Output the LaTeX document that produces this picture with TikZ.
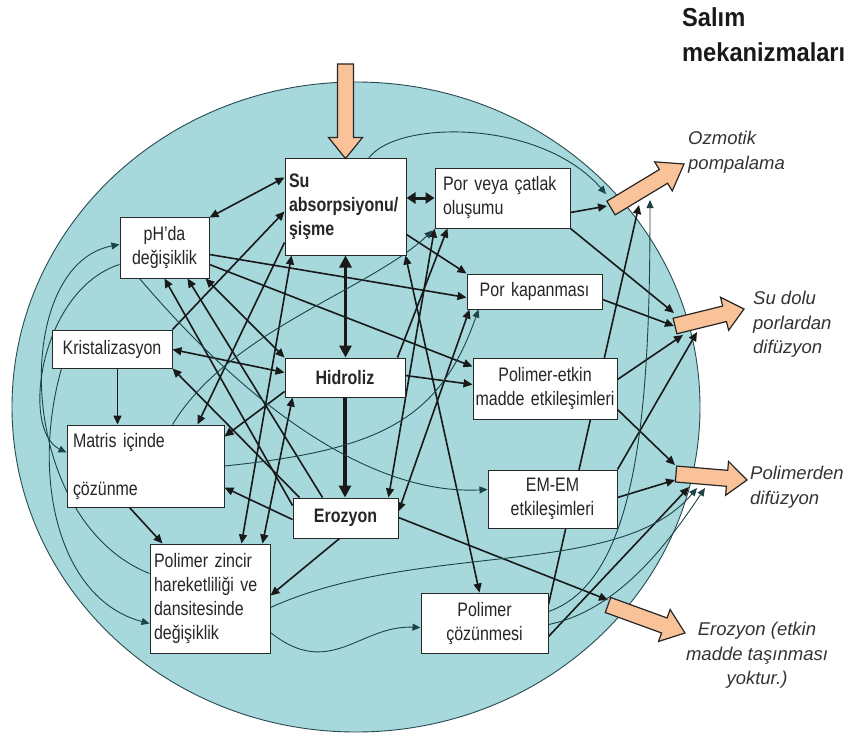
\documentclass[tikz,border=0pt]{standalone}
\usepackage{fontspec}
\setmainfont{Liberation Sans}
\newfontfamily\boxfont{Liberation Sans}[FakeStretch=0.82]
\newfontfamily\titlefont{Liberation Sans}[FakeStretch=0.91]
\usetikzlibrary{arrows.meta,calc}
\definecolor{teal1}{RGB}{166,216,220}
\definecolor{peach}{RGB}{249,194,152}
\definecolor{edgec}{RGB}{40,40,40}
\definecolor{thinc}{RGB}{30,66,70}
\definecolor{circc}{RGB}{40,75,80}
\pgfdeclarelayer{bg}
\pgfdeclarelayer{lines}
\pgfsetlayers{bg,lines,main}
\newcommand{\blockarr}[5]{%
  \path (#1) coordinate (ba) (#2) coordinate (bb);
  \path ($(bb)!#5!(ba)$) coordinate (bc);
  \draw[blk] ($(ba)!#3!90:(bb)$) -- ($(bc)!#3!90:(bb)$) -- ($(bc)!#4!90:(bb)$) -- (bb)
    -- ($(bc)!#4!-90:(bb)$) -- ($(bc)!#3!-90:(bb)$) -- ($(ba)!#3!-90:(bb)$) -- cycle;}
\begin{document}
\begin{tikzpicture}[x=1pt,y=-1pt,
  box/.style={draw=edgec, line width=1pt, fill=white, inner sep=0pt, text=black!85,
    font=\boxfont\fontsize{19.5}{24}\selectfont},
  bbox/.style={box, font=\boxfont\bfseries\fontsize{19.5}{24}\selectfont},
  conn/.style={draw=black!90, line width=1.6pt, -{Triangle[length=9pt,width=8pt]}},
  dconn/.style={draw=black!90, line width=1.6pt, {Triangle[length=9pt,width=8pt]}-{Triangle[length=9pt,width=8pt]}},
  heavyone/.style={draw=black!90, line width=3.4pt, -{Triangle[length=12pt,width=12pt]}},
  heavytwo/.style={draw=black!90, line width=3.4pt, {Triangle[length=12pt,width=12pt]}-{Triangle[length=12pt,width=12pt]}},
  heavyshort/.style={draw=black!90, line width=3pt, {Triangle[length=9pt,width=11pt]}-{Triangle[length=9pt,width=11pt]}},
  thinl/.style={draw=thinc, line width=0.9pt, -{Triangle[length=8pt,width=7pt]}},
  blk/.style={draw=black!85, line width=1.2pt, fill=peach, line join=miter},
  lab/.style={inner sep=0pt, align=left, text=black!80, font=\itshape\fontsize{18.5}{24.5}\selectfont}]
\useasboundingbox (0,0) rectangle (850,738);

\begin{pgfonlayer}{bg}
\draw[draw=circc, line width=0.9pt, fill=teal1] (356,407) ellipse [x radius=344pt, y radius=325pt];
\end{pgfonlayer}

% boxes
\node[bbox, minimum width=121pt, minimum height=96pt, text width=113pt, align=left] (su) at (345.5,207) {Su\\absorpsiyonu/\\şişme};
\node[box, minimum width=89pt, minimum height=61pt, text width=85pt, align=center] (ph) at (164.5,247.5) {pH’da\\değişiklik};
\node[box, minimum width=120pt, minimum height=38pt, text width=112pt, align=center] (kris) at (112,349) {Kristalizasyon};
\node[box, minimum width=157pt, minimum height=82pt, text width=145pt, align=left] (matris) at (145.5,466) {Matris içinde\\\mbox{}\\çözünme};
\node[box, minimum width=120pt, minimum height=109pt, text width=112pt, align=left] (pz) at (210,598.5) {Polimer zincir\\hareketliliği ve\\dansitesinde\\değişiklik};
\node[bbox, minimum width=120pt, minimum height=39pt, text width=110pt, align=center] (hid) at (345,377.5) {Hidroliz};
\node[bbox, minimum width=105pt, minimum height=40pt, text width=97pt, align=center] (ero) at (345.5,518) {Erozyon};
\node[box, minimum width=135pt, minimum height=60pt, text width=119pt, align=left] (por) at (502.5,198) {Por veya çatlak\\oluşumu};
\node[box, minimum width=135pt, minimum height=35pt, text width=125pt, align=center] (pk) at (534.5,291.5) {Por kapanması};
\node[box, minimum width=144pt, minimum height=61pt, text width=140pt, align=center] (pe) at (545,388.5) {Polimer-etkin\\madde etkileşimleri};
\node[box, minimum width=129pt, minimum height=58pt, text width=120pt, align=center] (em) at (552.5,499) {EM-EM\\etkileşimleri};
\node[box, minimum width=127pt, minimum height=60pt, text width=117pt, align=center] (pc) at (484.5,623) {Polimer\\çözünmesi};

% labels
\node[anchor=north west, inner sep=0pt, align=left, text=black!90, font=\titlefont\bfseries\fontsize{26}{35}\selectfont] (title) at (682,7) {Salım\\mekanizmaları};
\node[lab, anchor=north west] (lozm) at (688,131) {Ozmotik\\pompalama};
\node[lab, anchor=north west] (lsd) at (753,291) {Su dolu\\porlardan\\difüzyon};
\node[lab, anchor=north west] (lpd) at (750,466) {Polimerden\\difüzyon};
\node[lab, anchor=north, align=center] (ler) at (757,622) {Erozyon (etkin\\madde taşınması\\yoktur.)};

% block arrow end points
\coordinate (topT) at (345.5,64);
\coordinate (ozT) at (611,208);  \coordinate (ozH) at (684,164);
\coordinate (sdT) at (675,326);  \coordinate (sdH) at (744,309);
\coordinate (pdT) at (676,474);  \coordinate (pdH) at (747,480);
\coordinate (erT) at (608,605);  \coordinate (erH) at (685,633);
% connector targets on block arrows
\coordinate (ozmA) at (606,194); \coordinate (ozmB) at (607,206);
\coordinate (ozmC) at (639,205); \coordinate (ozmD) at (650,200);
\coordinate (sdA) at (674,313);  \coordinate (sdB) at (674,326);
\coordinate (sdC) at (683,335);  \coordinate (sdD) at (697,332);
\coordinate (pdA) at (675,465);  \coordinate (pdB) at (675,480);
\coordinate (pdC) at (689,487);  \coordinate (pdC2) at (697,488);
\coordinate (pdD) at (705,488);  \coordinate (erA) at (608,600);

\begin{pgfonlayer}{lines}
% heavy
\draw[heavytwo] (su.south) -- (su.south |- hid.north);
\draw[heavyone] (hid.south) -- (hid.south |- ero.north);
\draw[heavyshort] (su.east |- por.west) -- (por.west);
% medium
\draw[dconn] ($(su.north west)+(0,19)$) -- ($(ph.north east)+(0,1)$);
\draw[conn] ($(kris.south west)+(66,0)$) -- ($(matris.north west)+(51,0)$);
\draw[conn] ($(matris.south west)+(63,0)$) -- ($(pz.north west)+(13,0)$);
\draw[conn] ($(ero.south west)+(47,0)$) -- ($(pz.north east)+(0,52)$);
\draw[dconn] ($(kris.north east)+(0,20)$) -- ($(hid.north west)+(0,15)$);
\draw[conn] ($(ero.north west)+(7,0)$) -- (kris.south east);
\draw[conn] ($(ero.north west)+(0,22)$) -- ($(matris.north east)+(0,63)$);
\draw[conn] (kris.north east) -- ($(su.north west)+(0,53)$);
\draw[conn] ($(su.north west)+(0,84)$) -- ($(matris.north west)+(131,0)$);
\draw[conn] ($(ero.north west)+(30,0)$) -- ($(ph.south west)+(68,0)$);
\draw[conn] ($(ero.north west)+(0,8)$) -- ($(ph.south west)+(45,0)$);
\draw[dconn] ($(ph.south west)+(86,0)$) -- (hid.north west);
\draw[conn] ($(su.north east)+(0,76)$) -- (pk.north west);
\draw[conn] ($(ph.north east)+(0,38)$) -- ($(pk.north west)+(0,24)$);
\draw[conn] ($(ph.north east)+(0,48)$) -- ($(pe.north west)+(0,9)$);
\draw[conn] ($(hid.north east)+(0,18)$) -- ($(pe.north west)+(0,27)$);
\draw[dconn] ($(su.south east)+(-1,0)$) -- ($(pc.north west)+(59,0)$);
\draw[dconn] ($(su.south west)+(7,0)$) -- ($(pz.north west)+(92,0)$);
\draw[dconn] ($(hid.south west)+(8,0)$) -- ($(pz.north west)+(113,0)$);
\draw[conn] ($(por.north east)+(0,45)$) -- (ozmB);
\draw[conn] (por.south east) -- (sdA);
\draw[conn] ($(pk.north east)+(0,26)$) -- (sdB);
\draw[conn] ($(pe.north east)+(0,22)$) -- (sdC);
\draw[conn] ($(pe.north east)+(0,52)$) -- (pdA);
\draw[conn] ($(em.north east)+(0,28)$) -- (pdB);
\draw[conn] (em.north east) -- (sdD);
\draw[conn] ($(pc.north east)+(0,44)$) -- (pdC);
\draw[conn] ($(ero.north east)+(0,20)$) -- (erA);
\draw[dconn] (por.south west) -- ($(ero.north east)+(-10,0)$);
\draw[dconn] ($(pk.south west)+(3,0)$) -- ($(ero.north east)+(0,14)$);
\draw[conn] ($(hid.north east)+(-8,0)$) -- ($(por.south west)+(13,0)$);
\draw[conn] ($(hid.north west)+(0,34)$) -- ($(matris.north east)+(0,12)$);
\draw[conn] ($(pc.north east)+(0,12)$) -- (ozmC);
% thin curves
\draw[thinl] ($(su.north east)+(-38,0)$) .. controls (395,120) and (540,118) .. (ozmA);
\draw[thinl] ($(kris.south west)+(10,0)$) .. controls (30,480) and (60,600) .. ($(pz.north west)+(0,80)$);
\draw[thinl] ($(pz.north west)+(0,30)$) .. controls (15,520) and (10,265) .. ($(ph.north west)+(0,28)$);
\draw[thinl] ($(ph.south west)+(0,-14)$) .. controls (40,290) and (20,430) .. ($(matris.north west)+(0,28)$);
\draw[thinl] ($(ph.south west)+(20,0)$) .. controls (260,420) and (380,495) .. ($(em.north west)+(0,20)$);
\draw[thinl] ($(matris.north west)+(106,0)$) .. controls (230,330) and (370,290) .. ($(por.south west)+(-2,2)$);
\draw[thinl] (matris.east) .. controls (380,450) and (440,420) .. ($(pk.south west)+(12,0)$);
\draw[thinl] ($(pz.north east)+(0,89)$) .. controls (330,680) and (360,625) .. ($(pc.north west)+(0,35)$);
\draw[thinl] ($(pz.north east)+(0,64)$) .. controls (420,540) and (620,580) .. (pdC2);
\draw[thinl] ($(pc.north east)+(0,32)$) .. controls (620,610) and (670,540) .. (pdD);
\draw[thinl] ($(pc.north east)+(0,19)$) .. controls (640,580) and (650,400) .. (ozmD);
\end{pgfonlayer}

% block arrows
\blockarr{topT}{su.north}{8pt}{17pt}{21pt}
\blockarr{ozT}{ozH}{8pt}{17pt}{24pt}
\blockarr{sdT}{sdH}{8pt}{17pt}{20pt}
\blockarr{pdT}{pdH}{8pt}{17pt}{20pt}
\blockarr{erT}{erH}{8pt}{17pt}{22pt}
\end{tikzpicture}
\end{document}
